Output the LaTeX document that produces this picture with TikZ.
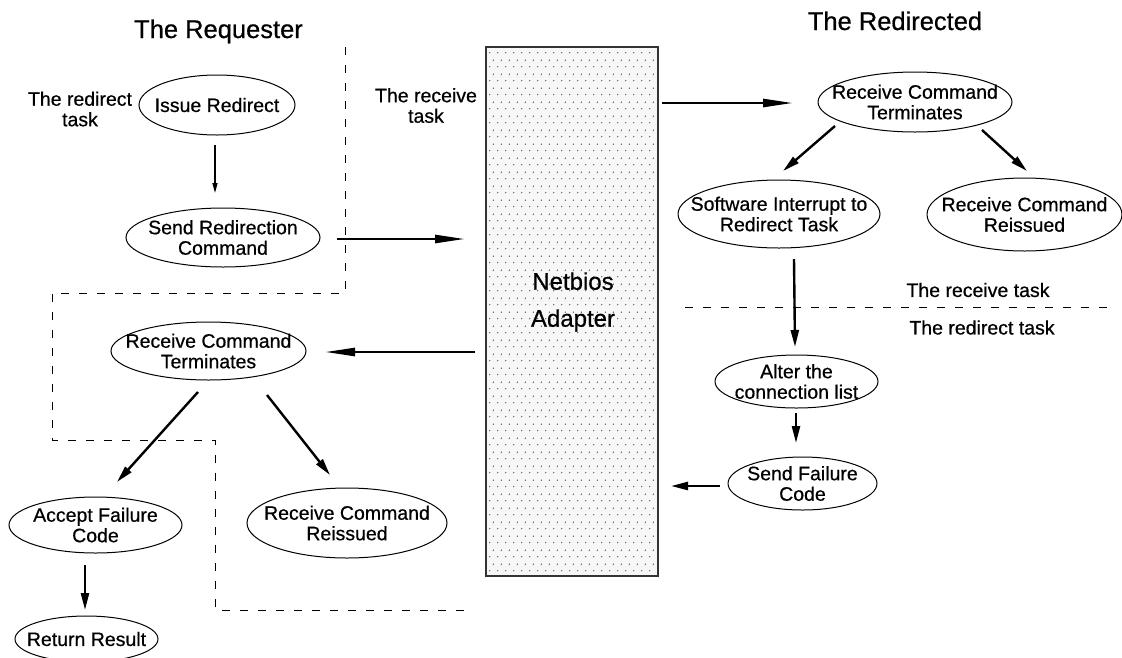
\documentclass[tikz,border=0pt]{standalone}
\usepackage{fontspec}
\setmainfont[FakeBold=0.6]{Liberation Sans}
\usetikzlibrary{arrows.meta,shapes.geometric,patterns.meta}

% font sizes (1pt of the picture = 1 unit of the coordinate grid)
\newcommand{\fsbody}{\fontsize{19.5pt}{20.5pt}\selectfont}
\newcommand{\fstitle}{\fontsize{25.5pt}{28pt}\selectfont}
\newcommand{\fsadapter}{\fontsize{24pt}{37pt}\selectfont}

% staggered dot screen for the adapter block
\tikzdeclarepattern{
  name=adapterdots,
  type=uncolored,
  bounding box={(0pt,0pt) and (8pt,14pt)},
  tile size={(8pt,14pt)},
  code={
    \fill (2pt,3.5pt) circle (0.75pt);
    \fill (6pt,10.5pt) circle (0.75pt);
  }
}

\begin{document}
\begin{tikzpicture}[x=1pt,y=-1pt,
  proc/.style={draw, ellipse, line width=1pt, inner sep=0pt},
  proctext/.style={font=\fsbody, align=center, inner sep=0pt},
  note/.style={font=\fsbody, align=center, inner sep=0pt},
  heading/.style={font=\fstitle, inner sep=0pt, anchor=base},
  bigarrow/.style={line width=2.6pt, -{Stealth[length=30pt,width=8pt,inset=0pt]}},
  midarrow/.style={line width=2.4pt, -{Stealth[length=17pt,width=8pt,inset=0pt]}},
  thinarrow/.style={line width=1.4pt, -{Stealth[length=10pt,width=5pt,inset=0pt]}},
  region/.style={line width=0.9pt, dash pattern=on 8pt off 10pt},
]
\fill[white] (0,0) rectangle (1122,657);
\useasboundingbox (0,0) rectangle (1122,657);

% headings and side notes
\node[heading] (req) at (218.5,38) {The Requester};
\node[heading] (red) at (895,30) {The Redirected};
\node[note] (lredir) at (80,109) {The redirect\\task};
\node[note] (lrecv) at (426,105.5) {The receive\\task};
\node[note] (rrecv) at (978,290) {The receive task};
\node[note] (rredir) at (982,327.5) {The redirect task};

% task boundaries
\draw[region] (345,47) -- (345,293) -- (52,293) -- (52,440) -- (215,440)
  -- (215,610) -- (468,610);
\draw[region] (685,307) -- (1107,307);

% the adapter
\node[draw=black!80, line width=1.2pt, fill=gray!6, minimum width=172pt,
  minimum height=529pt, inner sep=0pt] (nb) at (572,311.5) {};
\fill[pattern=adapterdots, pattern color=black!75] (487,48) rectangle (657,575);
\node[font=\fsadapter, align=center, inner sep=0pt] (nbtext) at (573,302) {Netbios\\Adapter};

% requester side
\node[proc, minimum width=156pt, minimum height=60pt,
  label={[proctext]center:Issue Redirect}] (issue) at (217,105) {};
\node[proc, minimum width=194pt, minimum height=59pt,
  label={[proctext]center:Send Redirection\\Command}] (send) at (223,237.5) {};
\node[proc, minimum width=195pt, minimum height=58pt,
  label={[proctext]center:Receive Command\\Terminates}] (lterm) at (208.5,351) {};
\node[proc, minimum width=173pt, minimum height=56pt,
  label={[proctext]center:Accept Failure\\Code}] (accept) at (95.5,525) {};
\node[proc, minimum width=200pt, minimum height=70pt,
  label={[proctext]center:Receive Command\\Reissued}] (lreiss) at (347,523) {};
\node[proc, minimum width=143pt, minimum height=46pt,
  label={[proctext]center:Return Result}] (ret) at (86.5,639) {};

% redirected side
\node[proc, minimum width=194pt, minimum height=60pt,
  label={[proctext]center:Receive Command\\Terminates}] (rterm) at (915,102) {};
\node[proc, minimum width=202pt, minimum height=68pt,
  label={[proctext]center:Software Interrupt to\\Redirect Task}] (soft) at (779,214) {};
\node[proc, minimum width=195pt, minimum height=73pt,
  label={[proctext]center:Receive Command\\Reissued}] (rreiss) at (1024.5,214.5) {};
\node[proc, minimum width=163pt, minimum height=53pt,
  label={[proctext]center:Alter the\\connection list}] (alter) at (796.5,381.5) {};
\node[proc, minimum width=149pt, minimum height=53pt,
  label={[proctext]center:Send Failure\\Code}] (sfail) at (802.5,483.5) {};

% flow
\draw[thinarrow] ([shift={(-2,40)}]issue.center) -- ([shift={(-2,-44.5)}]issue.center |- send.center);
\draw[bigarrow] ([shift={(114,1.5)}]send.center) -- ([shift={(-107,-72.5)}]nb.center);
\draw[bigarrow] ([shift={(90,-208.5)}]nb.center) -- ([shift={(-122,1)}]rterm.center);
\draw[bigarrow] ([shift={(-97,40.5)}]nb.center) -- ([shift={(116.5,1)}]lterm.center);
\draw[midarrow] ([shift={(-10.5,41)}]lterm.center) -- ([shift={(21.5,-43)}]accept.center);
\draw[midarrow] ([shift={(58.5,44)}]lterm.center) -- ([shift={(-17,-48)}]lreiss.center);
\draw[midarrow] ([shift={(-10.5,40)}]accept.center) -- ([shift={(-1.5,-29)}]ret.center);
\draw[midarrow] ([shift={(-80,24)}]rterm.center) -- ([shift={(4,-43)}]soft.center);
\draw[midarrow] ([shift={(67,28)}]rterm.center) -- ([shift={(2.5,-43.5)}]rreiss.center);
\draw[midarrow] ([shift={(15,45)}]soft.center) -- ([shift={(-1.5,-34.5)}]alter.center);
\draw[midarrow] ([shift={(-0.5,31.5)}]alter.center) -- ([shift={(-6.5,-40.5)}]sfail.center);
\draw[midarrow] ([shift={(-82.5,2.5)}]sfail.center) -- ([shift={(99,174.5)}]nb.center);
\end{tikzpicture}
\end{document}
